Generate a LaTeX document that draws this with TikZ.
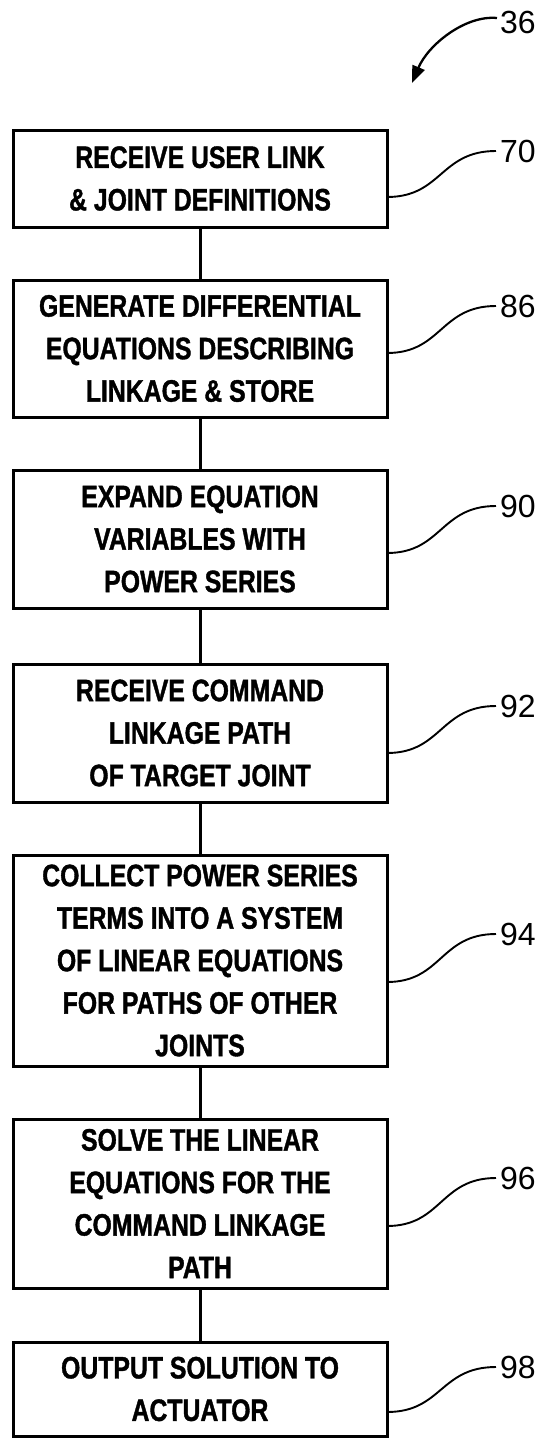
\documentclass[tikz,border=0pt]{standalone}
\usepackage{fontspec}
\setmainfont{Liberation Sans}
\newfontfamily\boxfont{Liberation Sans Bold}[FakeStretch=0.8,FakeBold=1.2]
\usetikzlibrary{arrows.meta}
\begin{document}
\begin{tikzpicture}[x=1pt,y=-1pt,
  stepbox/.style={draw,line width=3pt,minimum width=374pt,inner sep=0pt,align=center,
    font=\boxfont\fontsize{31}{42.5}\selectfont},
  conn/.style={line width=3pt},
  leader/.style={line width=1.9pt},
  reflabel/.style={anchor=west,inner sep=0pt,font=\fontsize{32}{32}\selectfont}]
\useasboundingbox (0,0) rectangle (540,1438);
% boxes
\node[stepbox,minimum height=97pt]  (b1) at (200,178.5) {RECEIVE USER LINK\\\& JOINT DEFINITIONS};
\node[stepbox,minimum height=137pt] (b2) at (200,348.5) {GENERATE DIFFERENTIAL\\EQUATIONS DESCRIBING\\LINKAGE \& STORE};
\node[stepbox,minimum height=138pt] (b3) at (200,539) {EXPAND EQUATION\\VARIABLES WITH\\POWER SERIES};
\node[stepbox,minimum height=138pt] (b4) at (200,733) {RECEIVE COMMAND\\LINKAGE PATH\\OF TARGET JOINT};
\node[stepbox,minimum height=211pt] (b5) at (200,960.5) {COLLECT POWER SERIES\\TERMS INTO A SYSTEM\\OF LINEAR EQUATIONS\\FOR PATHS OF OTHER\\JOINTS};
\node[stepbox,minimum height=169pt] (b6) at (200,1203.5) {SOLVE THE LINEAR\\EQUATIONS FOR THE\\COMMAND LINKAGE\\PATH};
\node[stepbox,minimum height=94pt]  (b7) at (200,1389) {OUTPUT SOLUTION TO\\ACTUATOR};
% connectors
\draw[conn] (b1.south) -- (b2.north);
\draw[conn] (b2.south) -- (b3.north);
\draw[conn] (b3.south) -- (b4.north);
\draw[conn] (b4.south) -- (b5.north);
\draw[conn] (b5.south) -- (b6.north);
\draw[conn] (b6.south) -- (b7.north);
% reference labels
\node[reflabel] (l36) at (500,22) {36};
\node[reflabel] (l70) at (500,151) {70};
\node[reflabel] (l86) at (500,306) {86};
\node[reflabel] (l90) at (500,506) {90};
\node[reflabel] (l92) at (500,706) {92};
\node[reflabel] (l94) at (500,934) {94};
\node[reflabel] (l96) at (500,1178) {96};
\node[reflabel] (l98) at (500,1367) {98};
% leader start points on the boxes
\coordinate (s70) at (387,197);
\coordinate (s86) at (387,353);
\coordinate (s90) at (387,553);
\coordinate (s92) at (387,753);
\coordinate (s94) at (387,982);
\coordinate (s96) at (387,1226);
\coordinate (s98) at (387,1412);
\foreach \n in {70,86,90,92,94,96,98}{
  \draw[leader] (s\n) .. controls +(55,0) and +(-56,0) .. ([xshift=-4pt]l\n.west);
}
% arrow 36
\coordinate (a36s) at (497,18);
\coordinate (a36e) at (412,83);
\draw[line width=2.3pt,-{Triangle[length=17pt,width=13pt]}] (a36s) .. controls (465,15) and (428,45) .. (a36e);
\end{tikzpicture}
\end{document}
